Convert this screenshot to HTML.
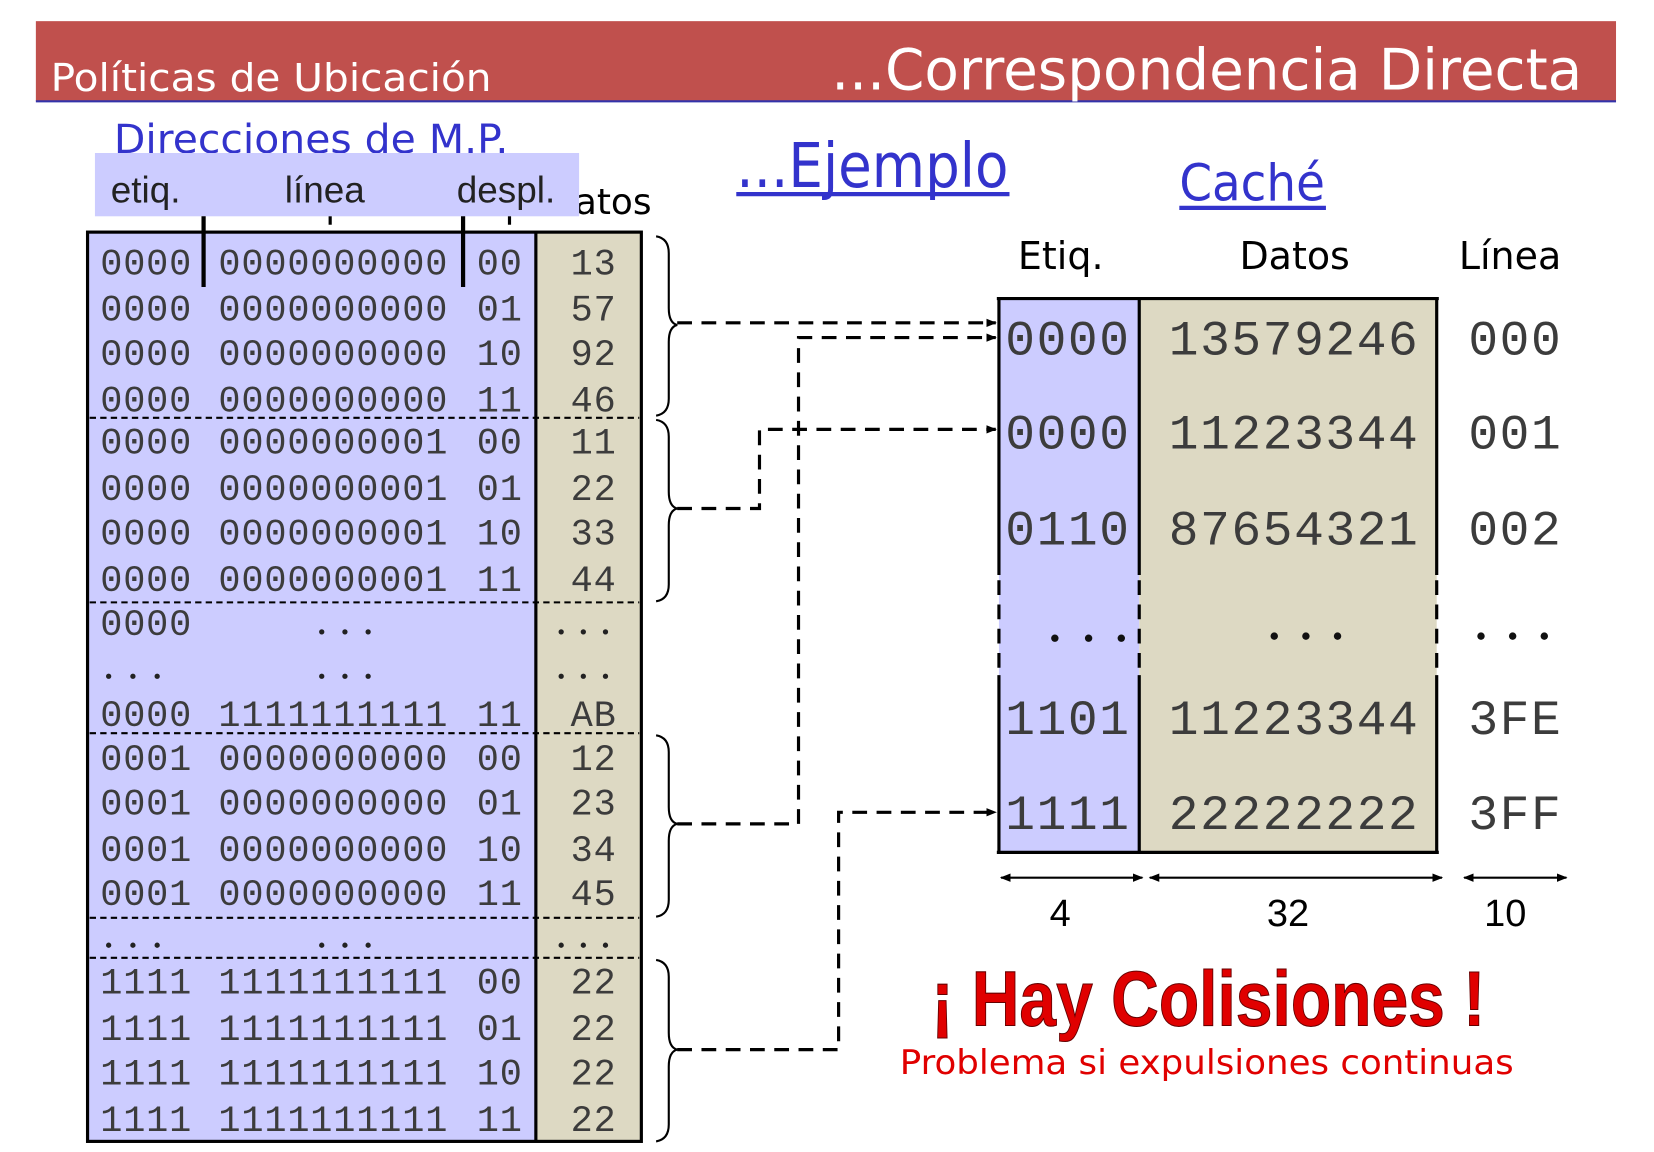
<!DOCTYPE html>
<html><head><meta charset="utf-8"><style>
html,body{margin:0;padding:0;background:#fff;width:1654px;height:1152px;overflow:hidden}
svg{display:block}
.m{font-family:"Liberation Mono",monospace;fill:#3c3c3c}
.s{font-family:"DejaVu Sans","Liberation Sans",sans-serif}
</style></head><body>
<svg width="1654" height="1152" viewBox="0 0 1568 1092" xmlns="http://www.w3.org/2000/svg">
<defs>
<marker id="ar" markerWidth="10" markerHeight="10" refX="9" refY="5" orient="auto" markerUnits="userSpaceOnUse"><path d="M0,1 L10,5 L0,9 z" fill="#000"/></marker>
<marker id="ar2" markerWidth="10" markerHeight="10" refX="9" refY="5" orient="auto-start-reverse" markerUnits="userSpaceOnUse"><path d="M0,1 L10,5 L0,9 z" fill="#000"/></marker>
</defs>
<rect x="34" y="20" width="1498" height="76" fill="#c0504d"/>
<line x1="34" y1="96" x2="1532" y2="96" stroke="#3333aa" stroke-width="2"/>
<text x="48" y="86" class="s" font-size="36" fill="#fff" textLength="418" lengthAdjust="spacingAndGlyphs">Políticas de Ubicación</text>
<text x="788" y="85" class="s" font-size="54" fill="#fff" textLength="712" lengthAdjust="spacingAndGlyphs">...Correspondencia Directa</text>

<text x="108" y="145" class="s" font-size="38" fill="#3333cc" textLength="374" lengthAdjust="spacingAndGlyphs">Direcciones de M.P.</text>
<text x="545" y="203" class="s" font-size="34" fill="#000">atos</text>
<rect x="90" y="145" width="459" height="60" fill="#ccccff"/>
<g font-family="Liberation Sans,sans-serif" font-size="35" fill="#222">
<text x="105" y="192">etiq.</text><text x="270" y="192">línea</text><text x="433" y="192">despl.</text></g>

<text x="698" y="177" class="s" font-size="58" fill="#3333cc" textLength="258" lengthAdjust="spacingAndGlyphs">...Ejemplo</text>
<line x1="698" y1="184" x2="957" y2="184" stroke="#3333cc" stroke-width="4"/>
<text x="1118" y="190" class="s" font-size="48" fill="#3333cc" textLength="138" lengthAdjust="spacingAndGlyphs">Caché</text>
<line x1="1118" y1="197" x2="1257" y2="197" stroke="#3333cc" stroke-width="4"/>

<rect x="83" y="220" width="425" height="862" fill="#ccccff"/>
<rect x="508" y="220" width="100" height="862" fill="#ddd9c3"/>
<g stroke="#000" stroke-width="2" stroke-dasharray="6,4">
<line x1="85" y1="396" x2="606" y2="396"/><line x1="85" y1="571" x2="606" y2="571"/>
<line x1="85" y1="695" x2="606" y2="695"/><line x1="85" y1="870" x2="606" y2="870"/>
<line x1="85" y1="908" x2="606" y2="908"/></g>
<line x1="508" y1="220" x2="508" y2="1082" stroke="#000" stroke-width="3"/>
<rect x="83" y="220" width="525" height="862" fill="none" stroke="#000" stroke-width="3"/>
<line x1="193" y1="205" x2="193" y2="272" stroke="#000" stroke-width="4"/>
<line x1="439" y1="205" x2="439" y2="272" stroke="#000" stroke-width="4"/>
<line x1="313" y1="205" x2="313" y2="213" stroke="#000" stroke-width="3"/>
<line x1="483" y1="205" x2="483" y2="213" stroke="#000" stroke-width="3"/>
<g class="m" font-size="35" letter-spacing="0.8">
<text y="260"><tspan x="95">0000</tspan><tspan x="207">0000000000</tspan><tspan x="452">00</tspan><tspan x="541">13</tspan></text>
<text y="304"><tspan x="95">0000</tspan><tspan x="207">0000000000</tspan><tspan x="452">01</tspan><tspan x="541">57</tspan></text>
<text y="346"><tspan x="95">0000</tspan><tspan x="207">0000000000</tspan><tspan x="452">10</tspan><tspan x="541">92</tspan></text>
<text y="390"><tspan x="95">0000</tspan><tspan x="207">0000000000</tspan><tspan x="452">11</tspan><tspan x="541">46</tspan></text>
<text y="430"><tspan x="95">0000</tspan><tspan x="207">0000000001</tspan><tspan x="452">00</tspan><tspan x="541">11</tspan></text>
<text y="474"><tspan x="95">0000</tspan><tspan x="207">0000000001</tspan><tspan x="452">01</tspan><tspan x="541">22</tspan></text>
<text y="516"><tspan x="95">0000</tspan><tspan x="207">0000000001</tspan><tspan x="452">10</tspan><tspan x="541">33</tspan></text>
<text y="560"><tspan x="95">0000</tspan><tspan x="207">0000000001</tspan><tspan x="452">11</tspan><tspan x="541">44</tspan></text>
<text y="602"><tspan x="95">0000</tspan></text>
<text y="688"><tspan x="95">0000</tspan><tspan x="207">1111111111</tspan><tspan x="452">11</tspan><tspan x="541">AB</tspan></text>
<text y="730"><tspan x="95">0001</tspan><tspan x="207">0000000000</tspan><tspan x="452">00</tspan><tspan x="541">12</tspan></text>
<text y="772"><tspan x="95">0001</tspan><tspan x="207">0000000000</tspan><tspan x="452">01</tspan><tspan x="541">23</tspan></text>
<text y="816"><tspan x="95">0001</tspan><tspan x="207">0000000000</tspan><tspan x="452">10</tspan><tspan x="541">34</tspan></text>
<text y="858"><tspan x="95">0001</tspan><tspan x="207">0000000000</tspan><tspan x="452">11</tspan><tspan x="541">45</tspan></text>
<text y="942"><tspan x="95">1111</tspan><tspan x="207">1111111111</tspan><tspan x="452">00</tspan><tspan x="541">22</tspan></text>
<text y="986"><tspan x="95">1111</tspan><tspan x="207">1111111111</tspan><tspan x="452">01</tspan><tspan x="541">22</tspan></text>
<text y="1028"><tspan x="95">1111</tspan><tspan x="207">1111111111</tspan><tspan x="452">10</tspan><tspan x="541">22</tspan></text>
<text y="1072"><tspan x="95">1111</tspan><tspan x="207">1111111111</tspan><tspan x="452">11</tspan><tspan x="541">22</tspan></text>
</g>
<g fill="#222">
<circle cx="305" cy="599" r="2.5"/><circle cx="327" cy="599" r="2.5"/><circle cx="349" cy="599" r="2.5"/>
<circle cx="532" cy="599" r="2.5"/><circle cx="553" cy="599" r="2.5"/><circle cx="574" cy="599" r="2.5"/>
<circle cx="103" cy="641" r="2.5"/><circle cx="126" cy="641" r="2.5"/><circle cx="149" cy="641" r="2.5"/>
<circle cx="305" cy="641" r="2.5"/><circle cx="327" cy="641" r="2.5"/><circle cx="349" cy="641" r="2.5"/>
<circle cx="532" cy="641" r="2.5"/><circle cx="553" cy="641" r="2.5"/><circle cx="574" cy="641" r="2.5"/>
<circle cx="103" cy="896" r="2.5"/><circle cx="126" cy="896" r="2.5"/><circle cx="149" cy="896" r="2.5"/>
<circle cx="305" cy="896" r="2.5"/><circle cx="327" cy="896" r="2.5"/><circle cx="349" cy="896" r="2.5"/>
<circle cx="532" cy="896" r="2.5"/><circle cx="553" cy="896" r="2.5"/><circle cx="574" cy="896" r="2.5"/>
</g>
<g fill="none" stroke="#000" stroke-width="2">
<path d="M622,224 Q634,226 634,240 L634,292 Q634,306 642,308 Q634,310 634,324 L634,378 Q634,392 622,394"/>
<path d="M622,398 Q634,400 634,414 L634,466 Q634,480 642,482 Q634,484 634,498 L634,554 Q634,568 622,570"/>
<path d="M622,697 Q634,699 634,713 L634,765 Q634,779 642,781 Q634,783 634,797 L634,853 Q634,867 622,869"/>
<path d="M622,910 Q634,912 634,926 L634,979 Q634,993 642,995 Q634,997 634,1011 L634,1066 Q634,1080 622,1082"/>
</g>
<g fill="none" stroke="#000" stroke-width="3" stroke-dasharray="14,9">
<path d="M642,306 L944,306" marker-end="url(#ar)"/>
<path d="M642,482 L720,482 L720,407 L944,407" marker-end="url(#ar)"/>
<path d="M642,781 L757,781 L757,320 L944,320" marker-end="url(#ar)"/>
<path d="M642,995 L795,995 L795,770 L944,770" marker-end="url(#ar)"/>
</g>
<g class="s" font-size="36" fill="#000">
<text x="965" y="255">Etiq.</text><text x="1175" y="255">Datos</text><text x="1383" y="255">Línea</text></g>
<rect x="947" y="283" width="133" height="525" fill="#ccccff"/>
<rect x="1080" y="283" width="282" height="525" fill="#ddd9c3"/>
<g stroke="#000" stroke-width="3">
<line x1="945" y1="283" x2="1364" y2="283"/><line x1="945" y1="808" x2="1364" y2="808"/>
<path d="M947,283 V545 M1080,283 V545 M1362,283 V545 M947,640 V808 M1080,640 V808 M1362,640 V808"/>
<path d="M947,550 V640 M1080,550 V640 M1362,550 V640" stroke-dasharray="14,9"/>
</g>
<g class="m" font-size="47" letter-spacing="1.5">
<text y="336"><tspan x="953">0000</tspan><tspan x="1108">13579246</tspan><tspan x="1392">000</tspan></text>
<text y="425"><tspan x="953">0000</tspan><tspan x="1108">11223344</tspan><tspan x="1392">001</tspan></text>
<text y="516"><tspan x="953">0110</tspan><tspan x="1108">87654321</tspan><tspan x="1392">002</tspan></text>
<text y="696"><tspan x="953">1101</tspan><tspan x="1108">11223344</tspan><tspan x="1392">3FE</tspan></text>
<text y="786"><tspan x="953">1111</tspan><tspan x="1108">22222222</tspan><tspan x="1392">3FF</tspan></text>
</g>
<g fill="#111">
<circle cx="1000" cy="605" r="3.5"/><circle cx="1032" cy="605" r="3.5"/><circle cx="1063" cy="605" r="3.5"/>
<circle cx="1208" cy="603" r="3.5"/><circle cx="1238" cy="603" r="3.5"/><circle cx="1268" cy="603" r="3.5"/>
<circle cx="1404" cy="603" r="3.5"/><circle cx="1434" cy="603" r="3.5"/><circle cx="1464" cy="603" r="3.5"/>
</g>
<g stroke="#000" stroke-width="2">
<line x1="949" y1="832" x2="1083" y2="832" marker-start="url(#ar2)" marker-end="url(#ar2)"/>
<line x1="1090" y1="832" x2="1367" y2="832" marker-start="url(#ar2)" marker-end="url(#ar2)"/>
<line x1="1388" y1="832" x2="1485" y2="832" marker-start="url(#ar2)" marker-end="url(#ar2)"/>
</g>
<g font-family="Liberation Sans,sans-serif" font-size="36" fill="#000">
<text x="995" y="878">4</text><text x="1201" y="878">32</text><text x="1407" y="878">10</text></g>
<text x="883" y="972" font-family="Liberation Sans,sans-serif" font-weight="bold" font-size="74" fill="#e00000" stroke="#600" stroke-width="1" textLength="525" lengthAdjust="spacingAndGlyphs">¡ Hay Colisiones !</text>
<text x="853" y="1018" class="s" font-size="32" fill="#e00000" textLength="582" lengthAdjust="spacingAndGlyphs">Problema si expulsiones continuas</text>
</svg>
</body></html>
